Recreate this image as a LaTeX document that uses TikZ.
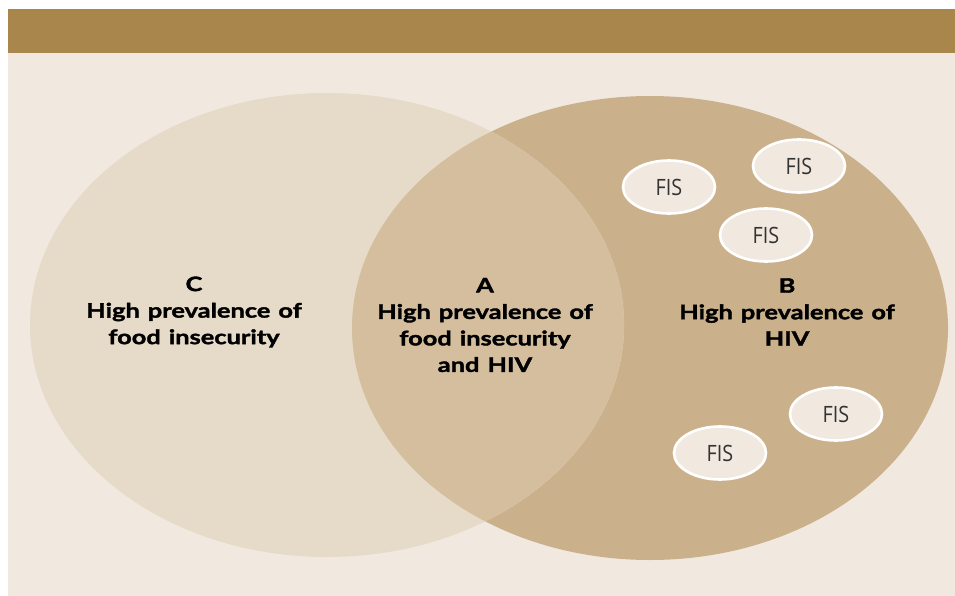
\documentclass[tikz,border=0pt]{standalone}
\usepackage{fontspec}
\setmainfont{Lato}
\newfontfamily\fisfont[FakeStretch=0.88]{Open Sans}
\newfontfamily\labelfont[FakeStretch=1.27,FakeBold=1.8,WordSpace=1.3]{Lato}
\usetikzlibrary{shapes.geometric}
\definecolor{barcol}{HTML}{A9864C}
\definecolor{bgcol}{HTML}{F1E9E0}
\definecolor{ccol}{HTML}{E6DBC8}
\definecolor{bcol}{HTML}{CBB18B}
\definecolor{acol}{HTML}{D4BE9E}
\definecolor{fistext}{HTML}{333333}
\tikzset{
  fisbox/.style={ellipse, draw=white, line width=2.6pt, fill=bgcol,
    minimum width=92pt, minimum height=53pt, inner sep=0pt,
    font=\fisfont\fontsize{22.5}{26}\selectfont, text=fistext},
  label/.style={align=center, text=black,
    font=\labelfont\bfseries\fontsize{20}{26.5}\selectfont}
}
\begin{document}
\begin{tikzpicture}[x=1pt,y=-1pt]
\useasboundingbox (0,0) rectangle (955,596);
\fill[white] (0,0) rectangle (955,596);
\fill[bgcol] (8,9) rectangle (955,596);
\fill[barcol] (8,9) rectangle (955,53);
% right ellipse B
\fill[bcol] (650,328) ellipse [x radius=298pt, y radius=232pt];
% left ellipse C
\fill[ccol] (327,325) ellipse [x radius=297pt, y radius=232pt];
% overlap A
\begin{scope}
  \clip (650,328) ellipse [x radius=298pt, y radius=232pt];
  \fill[acol] (327,325) ellipse [x radius=297pt, y radius=232pt];
\end{scope}
% labels
\node[label] (C) at (194,312) {C\\High prevalence of\\food insecurity};
\node[label] (A) at (485,325) {A\\High prevalence of\\food insecurity\\and HIV};
\node[label] (B) at (787,312) {B\\High prevalence of\\HIV};
% FIS ellipses
\node[fisbox] (f1) at (669,187) {FIS};
\node[fisbox] (f2) at (799,166) {FIS};
\node[fisbox] (f3) at (766,235) {FIS};
\node[fisbox] (f4) at (836,414) {FIS};
\node[fisbox] (f5) at (720,453) {FIS};
\end{tikzpicture}
\end{document}
